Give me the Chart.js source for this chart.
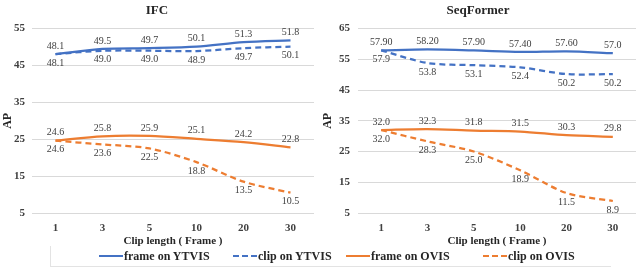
<!DOCTYPE html>
<html>
<head>
<meta charset="utf-8">
<title>Clip length vs AP</title>
<script src="https://cdn.jsdelivr.net/npm/chart.js"></script>
<style>
  body { margin: 0; background: #fff; }
  #wrap { position: relative; width: 640px; height: 269px; overflow: hidden; font-family: "Liberation Serif", "Times New Roman", serif; }
  .box { position: absolute; top: 0; width: 320px; height: 248px; }
  #legend { position: absolute; left: 50px; top: 246px; width: 560px; height: 20px;
            border-left: 1px solid #e3e3e3; border-bottom: 1px solid #e3e3e3;
            font-weight: bold; font-size: 12px; color: #262626; }
  .item { position: absolute; top: 3px; line-height: 14px; white-space: nowrap; }
  .sw { display: inline-block; width: 24px; height: 0; vertical-align: middle; margin-right: 1px; position: relative; top: -1px; }
</style>
</head>
<body>
<div id="wrap">
  <div class="box" style="left:0"><canvas id="ifcChart"></canvas></div>
  <div class="box" style="left:320px"><canvas id="seqChart"></canvas></div>
  <div id="legend"></div>
</div>
<script>
const clipLengths = ['1', '3', '5', '10', '20', '30'];

// IFC
const ifcFrameYtvis = [48.1, 49.5, 49.7, 50.1, 51.3, 51.8];
const ifcClipYtvis = [48.1, 49.0, 49.0, 48.9, 49.7, 50.1];
const ifcFrameOvis = [24.6, 25.8, 25.9, 25.1, 24.2, 22.8];
const ifcClipOvis = [24.6, 23.6, 22.5, 18.8, 13.5, 10.5];

// SeqFormer
const seqFrameYtvis = [57.9, 58.2, 57.9, 57.4, 57.6, 57.0];
const seqFrameYtvisText = ['57.90', '58.20', '57.90', '57.40', '57.60', '57.0'];
const seqClipYtvis = [57.9, 53.8, 53.1, 52.4, 50.2, 50.2];
const seqFrameOvis = [32.0, 32.3, 31.8, 31.5, 30.3, 29.8];
const seqClipOvis = [32.0, 28.3, 25.0, 18.9, 11.5, 8.9];

const ifcTicks = [5, 15, 25, 35, 45, 55];
const seqTicks = [5, 15, 25, 35, 45, 55, 65];

const seriesNames = ['frame on YTVIS', 'clip on YTVIS', 'frame on OVIS', 'clip on OVIS'];
const blue = '#4472C4';
const orange = '#ED7D31';
const serif = '"Liberation Serif", "Times New Roman", serif';

// draws the value above (solid) or below (dashed) each point
const valueLabels = {
  id: 'valueLabels',
  afterDatasetsDraw(chart) {
    const ctx = chart.ctx;
    ctx.save();
    ctx.font = '10px ' + serif;
    ctx.fillStyle = '#404040';
    ctx.textAlign = 'center';
    chart.data.datasets.forEach((ds, i) => {
      const meta = chart.getDatasetMeta(i);
      meta.data.forEach((pt, j) => {
        const txt = ds.labelText ? ds.labelText[j] : ds.data[j].toFixed(1);
        if (ds.labelPos === 'below') {
          ctx.textBaseline = 'top';
          ctx.fillText(txt, pt.x, pt.y + 4);
        } else {
          ctx.textBaseline = 'bottom';
          ctx.fillText(txt, pt.x, pt.y - 3);
        }
      });
    });
    ctx.restore();
  }
};

function makeDataset(i, data, color, dashed, extra) {
  return Object.assign({
    label: seriesNames[i],
    data: data,
    borderColor: color,
    backgroundColor: color,
    borderWidth: 2.25,
    borderDash: dashed ? [6, 4] : [],
    pointRadius: 0,
    tension: 0.3,
    fill: false,
    labelPos: dashed ? 'below' : 'above'
  }, extra || {});
}

function makeChart(id, title, datasets, ticks, axisWidth, tickPad, padRight) {
  const ctx = document.getElementById(id).getContext('2d');
  return new Chart(ctx, {
    type: 'line',
    data: { labels: clipLengths, datasets: datasets },
    options: {
      responsive: true,
      maintainAspectRatio: false,
      animation: false,
      layout: { padding: { left: 0, right: padRight, top: 0, bottom: 1 } },
      plugins: {
        legend: { display: false },
        tooltip: { enabled: false },
        title: {
          display: true,
          text: title,
          color: '#262626',
          font: { family: serif, size: 13, weight: 'bold', lineHeight: 1.2 },
          padding: { top: 3, bottom: 10 }
        }
      },
      scales: {
        x: {
          offset: true,
          grid: { display: false, drawTicks: false },
          border: { display: false },
          ticks: { color: '#404040', padding: 10, font: { family: serif, size: 11, weight: 'bold', lineHeight: 1 } },
          title: {
            display: true,
            text: 'Clip length ( Frame )',
            color: '#262626',
            padding: { top: -8, bottom: 0 },
            font: { family: serif, size: 11, weight: 'bold', lineHeight: 1 }
          }
        },
        y: {
          min: ticks[0],
          max: ticks[ticks.length - 1],
          afterBuildTicks: s => { s.ticks = ticks.map(v => ({ value: v })); },
          afterFit: s => { s.width = axisWidth; },
          grid: { color: '#d9d9d9', lineWidth: 1, drawTicks: false },
          border: { display: false },
          ticks: { color: '#404040', padding: tickPad, font: { family: serif, size: 11, weight: 'bold' } },
          title: {
            display: true,
            text: 'AP',
            color: '#262626',
            padding: { top: 1, bottom: 0 },
            font: { family: serif, size: 12, weight: 'bold' }
          }
        }
      }
    },
    plugins: [valueLabels]
  });
}

makeChart('ifcChart', 'IFC', [
  makeDataset(0, ifcFrameYtvis, blue, false),
  makeDataset(1, ifcClipYtvis, blue, true),
  makeDataset(2, ifcFrameOvis, orange, false),
  makeDataset(3, ifcClipOvis, orange, true)
], ifcTicks, 32, 7, 6);

makeChart('seqChart', 'SeqFormer', [
  makeDataset(0, seqFrameYtvis, blue, false, { labelText: seqFrameYtvisText }),
  makeDataset(1, seqClipYtvis, blue, true),
  makeDataset(2, seqFrameOvis, orange, false),
  makeDataset(3, seqClipOvis, orange, true)
], seqTicks, 38, 8, 4);

// shared legend under both charts
const legendPos = [98, 232, 345, 482];
const legendColors = [blue, blue, orange, orange];
const legend = document.getElementById('legend');
seriesNames.forEach((name, i) => {
  const dashed = i % 2 === 1;
  const item = document.createElement('div');
  item.className = 'item';
  item.style.left = (legendPos[i] - 50) + 'px';
  item.innerHTML = '<span class="sw" style="border-top:2px ' + (dashed ? 'dashed' : 'solid') +
    ' ' + legendColors[i] + '"></span>' + name;
  legend.appendChild(item);
});
</script>
</body>
</html>
